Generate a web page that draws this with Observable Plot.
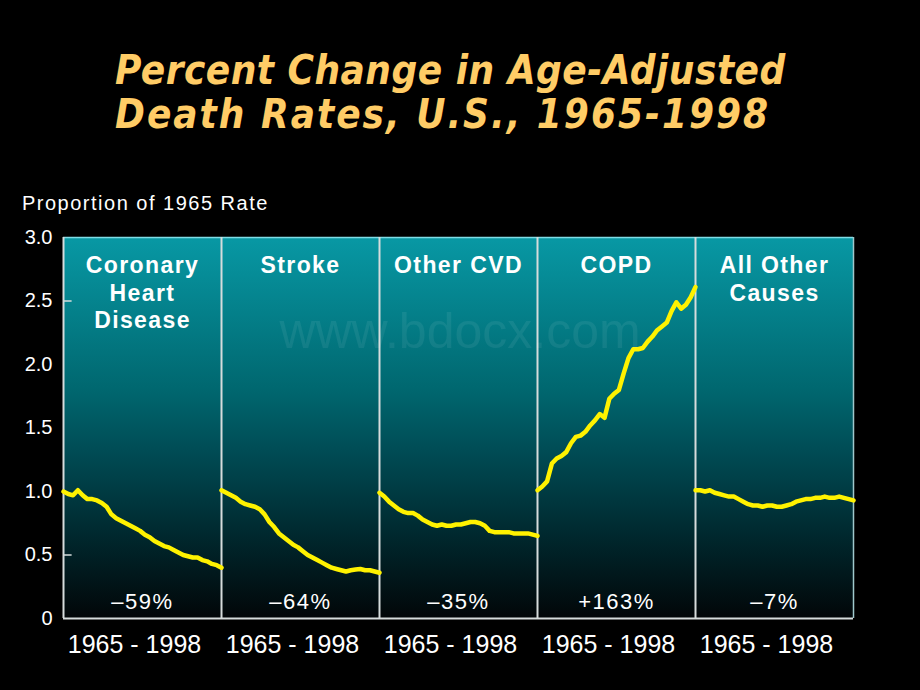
<!DOCTYPE html>
<html>
<head>
<meta charset="utf-8">
<script src="https://cdn.jsdelivr.net/npm/d3@7"></script>
<script src="https://cdn.jsdelivr.net/npm/@observablehq/plot@0.6"></script>
<style>
  html, body { margin: 0; padding: 0; background: #000; }
  #wrap { position: relative; width: 920px; height: 690px; background: #000; overflow: hidden; }
  #title { position: absolute; left: 115px; top: 48px; color: #ffcc66; font-family: "DejaVu Sans Condensed", "DejaVu Sans", sans-serif; font-style: italic; font-weight: bold; font-size: 40px; line-height: 44px; white-space: nowrap; }
  #title .l1 { letter-spacing: 0.5px; }
  #title .l2 { letter-spacing: 2px; }
  #ylab { position: absolute; left: 22px; top: 192px; color: #fff; font-family: "Liberation Sans", Arial, sans-serif; font-size: 20px; letter-spacing: 1.5px; }
  #chart { position: absolute; left: 0; top: 180px; }
  #wm { position: absolute; left: 0; width: 920px; top: 302px; text-align: center; color: rgba(255,255,255,0.07); font-family: "Liberation Sans", Arial, sans-serif; font-size: 50px; pointer-events: none; }
</style>
</head>
<body>
<div id="wrap">
  <div id="title"><span class="l1">Percent Change in Age-Adjusted</span><br><span class="l2">Death Rates, U.S., 1965-1998</span></div>
  <div id="ylab">Proportion of 1965 Rate</div>
  <div id="chart"></div>
  <div id="wm">www.bdocx.com</div>
</div>
<script>
const categories = ["Coronary Heart Disease", "Stroke", "Other CVD", "COPD", "All Other Causes"];
const panelTitles = ["Coronary\nHeart\nDisease", "Stroke", "Other CVD", "COPD", "All Other\nCauses"];
const changeLabels = ["\u201359%", "\u201364%", "\u201335%", "+163%", "\u20137%"];
const rangeLabel = "1965 - 1998";
const years = d3.range(1965, 1999);
const yTicks = [0, 0.5, 1, 1.5, 2, 2.5, 3];

const chd = [1.00, 0.98, 0.97, 1.01, 0.97, 0.94, 0.94, 0.93, 0.91, 0.88,
             0.82, 0.79, 0.77, 0.75, 0.73, 0.71, 0.69, 0.66, 0.64, 0.61,
             0.59, 0.57, 0.56, 0.54, 0.52, 0.50, 0.49, 0.48, 0.48, 0.46,
             0.45, 0.43, 0.42, 0.40];
const stroke = [1.01, 0.99, 0.97, 0.95, 0.92, 0.90, 0.89, 0.88, 0.86, 0.82,
                0.76, 0.72, 0.67, 0.64, 0.61, 0.58, 0.56, 0.53, 0.50, 0.48,
                0.46, 0.44, 0.42, 0.40, 0.39, 0.38, 0.37, 0.38, 0.385, 0.39,
                0.38, 0.38, 0.37, 0.36];
const otherCvd = [0.99, 0.96, 0.92, 0.89, 0.86, 0.84, 0.83, 0.83, 0.81, 0.78,
                  0.76, 0.74, 0.73, 0.74, 0.73, 0.73, 0.74, 0.74, 0.75, 0.76,
                  0.76, 0.75, 0.73, 0.69, 0.68, 0.68, 0.68, 0.68, 0.67, 0.67,
                  0.67, 0.67, 0.66, 0.65];
const copd = [1.01, 1.04, 1.08, 1.22, 1.26, 1.28, 1.31, 1.38, 1.43, 1.44,
              1.47, 1.52, 1.56, 1.61, 1.58, 1.73, 1.77, 1.80, 1.93, 2.05,
              2.12, 2.12, 2.13, 2.18, 2.22, 2.27, 2.30, 2.33, 2.42, 2.49,
              2.44, 2.47, 2.53, 2.61];
const allOther = [1.01, 1.01, 1.00, 1.01, 0.99, 0.98, 0.97, 0.96, 0.96, 0.94,
                  0.92, 0.90, 0.89, 0.89, 0.88, 0.89, 0.89, 0.88, 0.88, 0.89,
                  0.90, 0.92, 0.93, 0.94, 0.94, 0.95, 0.95, 0.96, 0.95, 0.95,
                  0.96, 0.95, 0.94, 0.93];

const seriesValues = [chd, stroke, otherCvd, copd, allOther];
const rows = [];
categories.forEach((c, i) => {
  seriesValues[i].forEach((v, j) => rows.push({cause: c, year: years[j], value: v}));
});
const panels = categories.map((c, i) => ({cause: c, title: panelTitles[i], change: changeLabels[i]}));

const edge = "#d6dcdc";
const chart = Plot.plot({
  width: 920,
  height: 510,
  marginLeft: 61,
  marginRight: 66,
  marginTop: 57,
  marginBottom: 72,
  style: {background: "transparent", color: "#fff", fontFamily: "'Liberation Sans', Arial, sans-serif"},
  fx: {domain: categories, padding: 0, label: null},
  x: {domain: [1965, 1998], axis: null},
  y: {domain: [0, 3], axis: null},
  marks: [
    Plot.frame({fill: "url(#bgGrad)", stroke: "none"}),
    Plot.axisY({ticks: yTicks, tickFormat: d => d === 0 ? "0" : d.toFixed(1), tickSize: 0, tickPadding: 11, fontSize: 20, label: null}),
    Plot.axisFx({anchor: "bottom", tickFormat: () => rangeLabel, tickSize: 0, tickPadding: 17, dx: -8, fontSize: 25, label: null}),
    Plot.ruleY([0.5, 2.5], {fx: () => categories[0], x1: 1965, x2: 1966.8, stroke: edge, strokeWidth: 1.5}),
    Plot.ruleY([3], {stroke: "#7fdde6", strokeWidth: 1.5}),
    Plot.ruleY([0], {stroke: edge, strokeWidth: 2}),
    Plot.ruleX([1965], {stroke: edge, strokeWidth: 2}),
    Plot.ruleX([categories[4]], {fx: d => d, x: () => 1998, stroke: "#9fc8cc", strokeWidth: 1.5}),
    Plot.line(rows, {fx: "cause", x: "year", y: "value", stroke: "#fff200", strokeWidth: 4.5, strokeLinejoin: "round", strokeLinecap: "round"}),
    Plot.text(panels, {fx: "cause", text: "title", frameAnchor: "top", lineAnchor: "top", dy: 16, fontSize: 23, fontWeight: "bold", lineHeight: 1.2, fill: "#fff"}),
    Plot.text(panels, {fx: "cause", text: "change", frameAnchor: "bottom", lineAnchor: "middle", dy: -17, fontSize: 22, fill: "#fff"})
  ]
});

const defs = d3.select(chart).insert("defs", ":first-child");
const g = defs.append("linearGradient").attr("id", "bgGrad").attr("x1", 0).attr("y1", 0).attr("x2", 0).attr("y2", 1);
[["0%", "#0898a4"], ["40%", "#00676f"], ["56%", "#004c55"], ["77%", "#002a30"], ["100%", "#020608"]]
  .forEach(([o, c]) => g.append("stop").attr("offset", o).attr("stop-color", c));

const textGroups = d3.select(chart).selectAll('g[aria-label="text"]').nodes();
if (textGroups[0]) textGroups[0].setAttribute("letter-spacing", "1.4");
if (textGroups[1]) textGroups[1].setAttribute("letter-spacing", "1.5");

document.getElementById("chart").appendChild(chart);
</script>
</body>
</html>
